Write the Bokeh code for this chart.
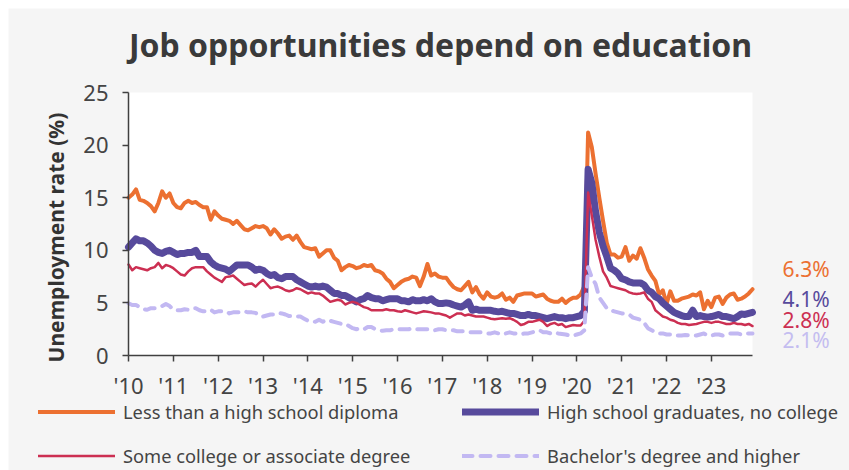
import math
from bokeh.plotting import figure
from bokeh.models import Legend, LegendItem, Label, FixedTicker, Range1d, BoxAnnotation
from bokeh.embed import file_html
from bokeh.resources import INLINE

title_text = "Job opportunities depend on education"
y_label = "Unemployment rate (%)"
start_year = 2010
tick_years = list(range(2010, 2024))
tick_labels = ["'10", "'11", "'12", "'13", "'14", "'15", "'16", "'17", "'18", "'19", "'20", "'21", "'22", "'23"]
y_ticks = [0, 5, 10, 15, 20, 25]
y_max = 25

series_names = ["Less than a high school diploma", "High school graduates, no college",
                "Some college or associate degree", "Bachelor's degree and higher"]

# monthly unemployment rates, Jan 2010 - Dec 2023
less_hs = [
    15.0, 15.3, 15.8, 14.8, 14.7, 14.5, 14.2, 13.7, 14.5, 15.6, 15.0, 15.4,
    14.5, 14.1, 14.0, 14.5, 14.7, 14.5, 14.6, 14.3, 14.1, 14.1, 12.9, 13.7,
    13.3, 13.0, 12.9, 12.8, 12.5, 12.8, 12.4, 12.0, 11.9, 12.1, 12.3, 12.2,
    12.3, 12.1, 11.5, 12.0, 11.6, 11.1, 11.3, 11.4, 11.0, 11.4, 10.8, 10.3,
    10.2, 10.1, 10.2, 9.4, 9.7, 10.0, 10.0, 9.3, 9.0, 8.1, 8.4, 8.6,
    8.5, 8.3, 8.4, 8.6, 8.5, 8.6, 8.1, 8.0, 7.8, 7.3, 7.0, 6.4,
    6.7, 7.0, 7.2, 7.3, 7.5, 7.4, 6.6, 7.5, 8.7, 7.6, 7.8, 7.5,
    7.4, 7.4, 6.9, 6.5, 6.3, 6.2, 6.6, 7.0, 6.0, 6.5, 5.8, 5.4,
    6.0, 5.6, 5.5, 5.6, 5.9, 5.3, 5.5, 5.1, 5.7, 5.8, 5.9, 5.9,
    5.9, 5.6, 5.7, 5.8, 5.4, 5.2, 5.1, 5.1, 5.4, 5.0, 5.3, 5.5,
    5.5, 5.8, 6.6, 21.2, 19.8, 17.3, 15.0, 12.8, 10.7, 9.6, 9.6, 9.3,
    9.4, 10.3, 9.0, 9.5, 9.2, 10.2, 9.3, 8.2, 7.6, 7.1, 5.8, 6.2,
    4.9, 6.1, 5.2, 5.2, 5.4, 5.5, 5.6, 5.8, 5.7, 6.0, 4.4, 5.2,
    4.6, 5.5, 5.6, 4.9, 5.5, 5.8, 5.9, 5.3, 5.4, 5.6, 5.9, 6.3,
]
hs_grad = [
    10.3, 10.7, 11.1, 10.9, 10.9, 10.7, 10.4, 10.0, 9.8, 9.7, 9.9, 10.0,
    9.8, 9.6, 9.7, 9.7, 9.8, 9.8, 10.0, 9.4, 9.4, 9.4, 8.9, 8.6,
    8.4, 8.3, 8.2, 8.0, 8.3, 8.6, 8.6, 8.6, 8.6, 8.4, 8.1, 8.2,
    8.1, 7.8, 7.6, 7.7, 7.4, 7.3, 7.5, 7.5, 7.5, 7.2, 7.0, 6.8,
    6.6, 6.5, 6.6, 6.5, 6.6, 6.5, 6.2, 5.9, 5.9, 5.7, 5.7, 5.5,
    5.3, 5.1, 5.3, 5.4, 5.7, 5.5, 5.4, 5.4, 5.2, 5.3, 5.4, 5.4,
    5.4, 5.2, 5.2, 5.1, 5.3, 5.2, 5.2, 5.3, 5.2, 5.4, 5.1, 4.95,
    4.95, 5.0, 4.95, 4.8, 4.7, 4.6, 4.8, 5.1, 4.3, 4.4, 4.3, 4.3,
    4.3, 4.3, 4.2, 4.15, 4.2, 4.1, 4.0, 4.0, 3.9, 3.8, 3.8, 3.9,
    3.8, 3.8, 3.7, 3.6, 3.5, 3.6, 3.7, 3.6, 3.6, 3.5, 3.6, 3.6,
    3.7, 3.8, 4.2, 17.7, 16.4, 13.7, 11.7, 10.4, 9.4, 8.3, 8.1, 7.8,
    7.3, 7.2, 7.0, 6.9, 6.9, 6.9, 6.7, 6.2, 6.0, 5.6, 5.4, 5.0,
    4.7, 4.4, 4.1, 3.95, 3.8, 3.7, 3.7, 4.3, 3.7, 3.8, 3.7, 3.65,
    3.7, 3.8, 3.9, 3.7, 3.7, 3.6, 3.5, 3.7, 3.95, 3.9, 4.0, 4.1,
]
some_college = [
    8.65, 8.1, 8.4, 8.3, 8.2, 8.1, 8.3, 8.4, 8.8, 8.3, 8.6, 8.5,
    8.3, 8.0, 7.7, 7.6, 8.0, 8.3, 8.4, 8.4, 8.4, 8.0, 7.7, 7.4,
    7.2, 7.0, 7.45, 7.5, 7.6, 7.3, 7.0, 6.7, 6.8, 6.85, 6.55, 6.9,
    7.2, 6.8, 6.4, 6.5, 6.55, 6.4, 6.2, 6.1, 6.2, 6.4, 6.3, 6.1,
    5.9, 6.0, 5.9, 5.9, 5.7, 5.4, 5.1, 5.2, 5.3, 5.2, 4.85, 5.0,
    5.1, 5.0, 4.8, 4.6, 4.5, 4.3, 4.3, 4.3, 4.3, 4.4, 4.3, 4.3,
    4.2, 4.15, 4.3, 4.2, 4.1, 4.0, 4.1, 4.2, 4.15, 4.1, 4.0, 4.0,
    3.9, 3.8, 3.6, 3.8, 4.0, 4.0, 3.8, 3.9, 3.8, 3.7, 3.7, 3.7,
    3.6, 3.5, 3.45, 3.5, 3.55, 3.5, 3.55, 3.4, 3.2, 2.9, 3.0, 3.2,
    3.2, 3.3, 3.4, 3.2, 2.8, 3.0, 3.1, 2.9, 3.0, 2.7, 2.8, 2.9,
    2.85, 2.85, 3.3, 15.5, 13.3, 11.0, 9.4, 8.0, 7.4, 6.6, 6.5, 6.4,
    6.3, 6.2, 6.0, 5.9, 5.85, 5.9, 6.0, 5.4, 5.1, 4.3, 4.0, 3.7,
    3.6, 3.4, 3.3, 3.1, 3.0, 3.0, 2.9, 2.95, 3.0, 3.1, 3.2, 3.2,
    3.1, 3.2, 3.2, 3.1, 3.0, 3.0, 3.1, 3.0, 3.0, 2.9, 3.0, 2.8,
]
bachelors = [
    4.97, 4.8, 4.8, 4.6, 4.4, 4.35, 4.5, 4.5, 4.6, 4.7, 4.9, 4.7,
    4.35, 4.3, 4.3, 4.4, 4.35, 4.5, 4.5, 4.3, 4.2, 4.2, 4.35, 4.1,
    4.2, 4.2, 4.2, 4.0, 4.1, 4.1, 4.1, 4.2, 4.1, 4.1, 4.05, 3.8,
    3.7, 3.8, 3.9, 3.9, 4.05, 4.0, 3.9, 3.75, 3.75, 3.7, 3.7, 3.5,
    3.3, 3.3, 3.2, 3.4, 3.2, 3.4, 3.3, 3.2, 3.1, 3.0, 3.0, 2.8,
    2.6, 2.5, 2.6, 2.5, 2.7, 2.7, 2.5, 2.4, 2.35, 2.4, 2.4, 2.5,
    2.5, 2.5, 2.5, 2.5, 2.6, 2.5, 2.5, 2.5, 2.5, 2.5, 2.4, 2.5,
    2.5, 2.4, 2.4, 2.4, 2.3, 2.3, 2.3, 2.2, 2.2, 2.2, 2.2, 2.2,
    2.1, 2.1, 2.2, 2.1, 2.0, 2.1, 2.2, 2.1, 2.1, 2.0, 2.1, 2.1,
    2.2, 2.3, 2.4, 2.2, 2.2, 2.1, 2.2, 2.1, 2.05, 2.0, 1.9, 1.9,
    2.0, 2.1, 2.4, 8.4, 7.4, 6.8, 5.5, 5.0, 4.5, 4.3, 4.2, 4.1,
    4.0, 3.96, 3.9, 3.6, 3.5, 3.4, 3.1, 2.6, 2.4, 2.2, 2.1, 2.1,
    2.0, 2.0, 1.9, 1.9, 1.9, 1.95, 1.9, 1.9, 1.9, 2.0, 2.1, 1.9,
    1.9, 2.0, 2.0, 1.9, 2.0, 2.1, 2.1, 2.1, 2.0, 2.1, 2.1, 2.1,
]

x = [start_year + i / 12 for i in range(len(less_hs))]

FONT = "Noto Sans"
ORANGE = "#EC7031"
PURPLE = "#574A9C"
CRIMSON = "#CC2F52"
LAVENDER = "#C2B8F2"
TEXT = "#444444"
BG = "#f5f5f5"

# figure geometry (px); the white data area sits inside a full-size frame
W, H = 841, 462
AREA_L, AREA_R, AREA_T, AREA_B = 120, 744, 84, 347
x0, x1 = x[0], x[-1]
ppx = (AREA_R - AREA_L) / (x1 - x0)
ppy = (AREA_B - AREA_T) / y_max
x_range = Range1d(x0 - AREA_L / ppx, x1 + (W - AREA_R) / ppx)
y_range = Range1d(-(H - AREA_B) / ppy, y_max + AREA_T / ppy)

p = figure(width=W, height=H, output_backend="svg", toolbar_location=None,
           x_range=x_range, y_range=y_range,
           background_fill_color=BG, border_fill_color=BG, outline_line_color=None,
           min_border=0, min_border_left=0, min_border_right=0, min_border_top=0, min_border_bottom=0,
           styles={"margin-left": "8px", "margin-top": "8px"})
p.grid.visible = False

p.add_layout(BoxAnnotation(left=x0, right=x1, bottom=0, top=y_max, fill_color="white", fill_alpha=1,
                           line_color=None, level="underlay"))

p.xaxis.ticker = FixedTicker(ticks=tick_years)
p.xaxis.major_label_overrides = {yr: lbl for yr, lbl in zip(tick_years, tick_labels)}
p.xaxis.fixed_location = 0
p.xaxis.bounds = (x0, x1)
p.yaxis.ticker = FixedTicker(ticks=y_ticks)
p.yaxis.fixed_location = x0
p.yaxis.bounds = (0, y_max)
for ax in [p.xaxis[0], p.yaxis[0]]:
    ax.axis_line_color = "#404040"
    ax.axis_line_width = 1.5
    ax.major_tick_line_color = "#404040"
    ax.major_tick_line_width = 1.5
    ax.major_tick_in = 0
    ax.major_tick_out = 6
    ax.minor_tick_line_color = None
    ax.major_label_text_font = FONT
    ax.major_label_text_font_size = "22px"
    ax.major_label_text_color = TEXT
p.xaxis.major_label_standoff = 8
p.yaxis.major_label_standoff = 14

r1 = p.line(x, less_hs, line_color=ORANGE, line_width=4, line_cap="round", line_join="round")
r2 = p.line(x, hs_grad, line_color=PURPLE, line_width=7, line_cap="round", line_join="round")
r3 = p.line(x, some_college, line_color=CRIMSON, line_width=2.5, line_cap="round", line_join="round")
r4 = p.line(x, bachelors, line_color=LAVENDER, line_width=4, line_dash="10 8", line_cap="round", line_join="round")

# title, centred over the data area
p.add_layout(Label(x=(AREA_L + AREA_R) / 2, y=H - 36, x_units="screen", y_units="screen", text=title_text,
                   text_align="center", text_baseline="alphabetic", text_font=FONT, text_font_size="32px",
                   text_font_style="bold", text_color="#3a3a3a"))

# y-axis title
p.add_layout(Label(x=47, y=H - 229, x_units="screen", y_units="screen", text=y_label, angle=math.pi / 2,
                   text_align="center", text_baseline="middle", text_font=FONT, text_font_size="21px",
                   text_font_style="bold", text_color="#333333"))

legend_style = dict(glyph_width=77, glyph_height=23, label_height=23, label_standoff=8, spacing=19,
                    padding=0, margin=0, border_line_color=None, background_fill_alpha=0,
                    label_text_font=FONT, label_text_font_size="18.3px", label_text_color=TEXT)
leg1 = Legend(items=[LegendItem(label=series_names[0], renderers=[r1]),
                     LegendItem(label=series_names[2], renderers=[r3])],
              location=(30, 2), **legend_style)
leg2 = Legend(items=[LegendItem(label=series_names[1], renderers=[r2]),
                     LegendItem(label=series_names[3], renderers=[r4])],
              location=(454, 2), **legend_style)
p.add_layout(leg1)
p.add_layout(leg2)

label_colors = [ORANGE, PURPLE, CRIMSON, "#C4BDF0"]
label_yoff = [20, 13, 6, -7]
for vals, col, yoff in zip([less_hs, hs_grad, some_college, bachelors], label_colors, label_yoff):
    p.add_layout(Label(x=x1, y=vals[-1], text=f"{vals[-1]:.1f}%", x_offset=30, y_offset=yoff,
                       text_baseline="middle", text_font=FONT, text_font_size="21px", text_color=col))

open("out.html", "w").write(file_html(p, INLINE))
